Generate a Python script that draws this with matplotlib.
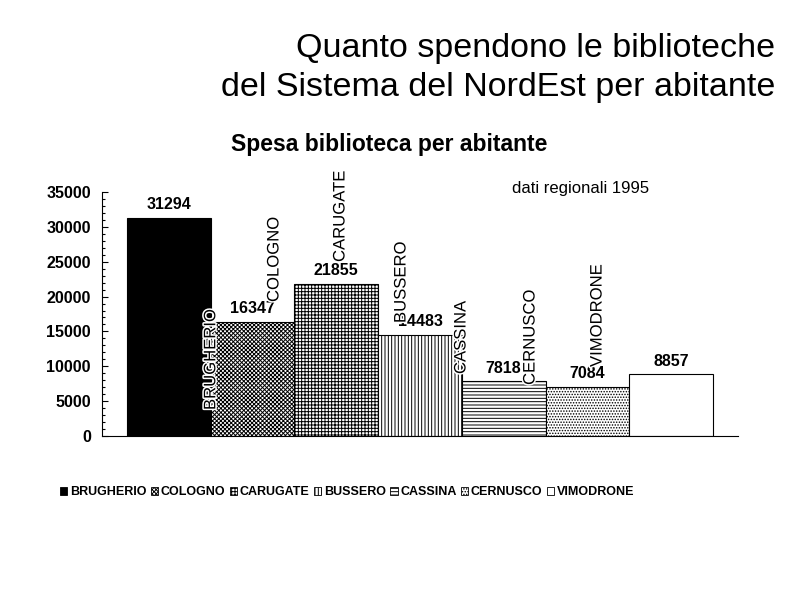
import matplotlib
matplotlib.use("Agg")
import matplotlib.pyplot as plt
import matplotlib.patheffects as pe
from matplotlib.patches import Patch
from matplotlib.ticker import MultipleLocator

plt.rcParams['font.family'] = ['Liberation Sans', 'DejaVu Sans']
plt.rcParams['hatch.linewidth'] = 0.7

comuni = ['BRUGHERIO', 'COLOGNO', 'CARUGATE', 'BUSSERO', 'CASSINA', 'CERNUSCO', 'VIMODRONE']
spesa = [31294, 16347, 21855, 14483, 7818, 7084, 8857]
hatches = ['', 'xxxxxxxx', '+++++', '|||||', '-----', '......', '']
colori = ['black', 'white', 'white', 'white', 'white', 'white', 'white']

# where the stray vertical names sit (data coords, bottom of text)
nome_x = [0.50, 1.255, 2.044, 2.773, 3.49, 4.315, 5.116]
nome_y = [3730, 19220, 24960, 16210, 8890, 7320, 9900]

fig = plt.figure(figsize=(7.92, 6.12), dpi=100)
ax = fig.add_axes([102 / 792, 1 - 436 / 612, 636 / 792, 244 / 612])

xs = range(len(comuni))
bars = ax.bar(xs, spesa, width=1.0, color=colori, edgecolor='black', linewidth=0.8)
for b, h in zip(bars, hatches):
    b.set_hatch(h)

for x, v in zip(xs, spesa):
    ax.annotate(str(v), (x, v), xytext=(0, 4), textcoords='offset points',
                ha='center', va='bottom', fontsize=11.5, fontweight='bold')

alone = [pe.Stroke(linewidth=2.2, foreground='white'), pe.Normal()]
for nome, x, y in zip(comuni, nome_x, nome_y):
    ax.text(x, y, nome, rotation=90, ha='center', va='bottom', fontsize=12,
            path_effects=alone)

ax.set_xlim(-0.8, 6.8)
ax.set_ylim(0, 35000)
ax.yaxis.set_major_locator(MultipleLocator(5000))
ax.yaxis.set_minor_locator(MultipleLocator(1000))
ax.tick_params(axis='y', which='major', direction='in', length=4, width=0.8, pad=8,
               labelsize=11.5)
ax.tick_params(axis='y', which='minor', direction='in', length=2.5, width=0.8)
for t in ax.get_yticklabels():
    t.set_fontweight('bold')
ax.set_xticks([])
for s in ['top', 'right']:
    ax.spines[s].set_visible(False)

fig.text(581 / 792, 1 - 189 / 612, 'dati regionali 1995', ha='center', va='center',
         fontsize=12)

fig.text(389 / 792, 1 - 144 / 612, 'Spesa biblioteca per abitante', ha='center',
         va='center', fontsize=16.5, fontweight='bold')
fig.text(775 / 792, 1 - 57 / 612, 'Quanto spendono le biblioteche', ha='right',
         va='baseline', fontsize=24.5)
fig.text(775 / 792, 1 - 96 / 612, 'del Sistema del NordEst per abitante', ha='right',
         va='baseline', fontsize=24.5)

handles = [Patch(facecolor=c, edgecolor='black', hatch=h, linewidth=0.6)
           for c, h in zip(colori, hatches)]
fig.legend(handles, comuni, loc='center', bbox_to_anchor=(347 / 792, 1 - 492 / 612),
           ncol=7, frameon=False, handlelength=0.6, handleheight=0.6,
           handletextpad=0.2, columnspacing=0.35,
           prop={'size': 9, 'weight': 'bold'})

fig.savefig('out.png', dpi=100)
